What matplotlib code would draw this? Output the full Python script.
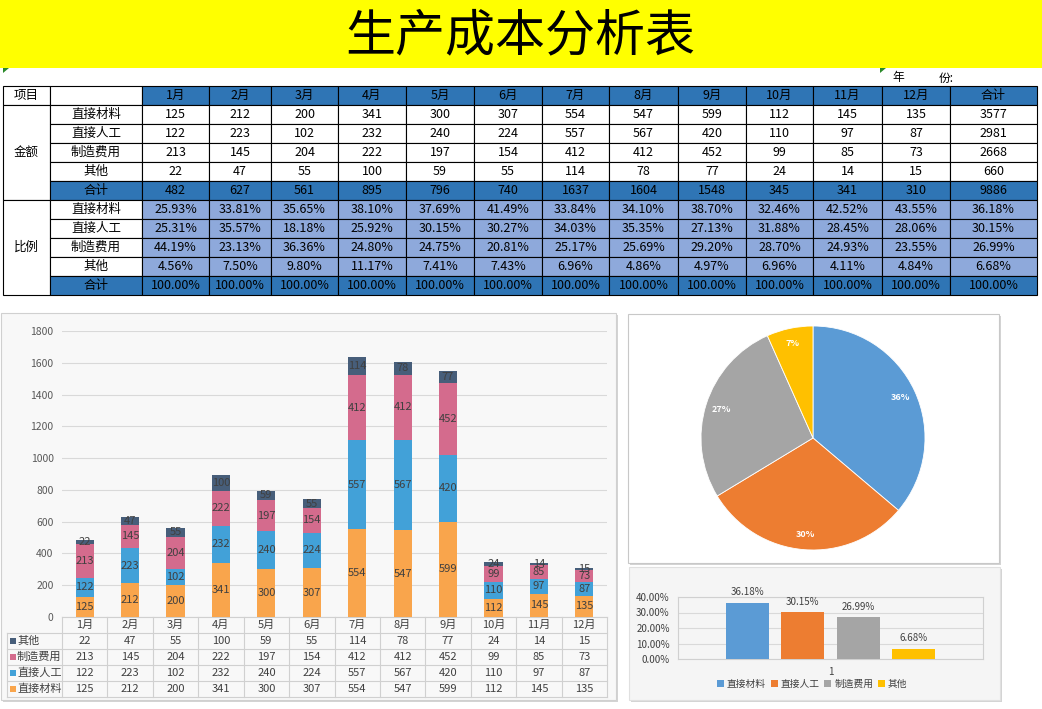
import numpy as np
import matplotlib
matplotlib.use('Agg')
from matplotlib import pyplot as plt
from matplotlib.patches import Rectangle, Polygon
from matplotlib.ticker import FuncFormatter

plt.rcParams['font.family'] = ['Noto Sans CJK SC', 'DejaVu Sans']

# ---- data read from the sheet ----
months = ['1月', '2月', '3月', '4月', '5月', '6月', '7月', '8月', '9月', '10月', '11月', '12月']
items = ['直接材料', '直接人工', '制造费用', '其他']
materials = [125, 212, 200, 341, 300, 307, 554, 547, 599, 112, 145, 135]
labor = [122, 223, 102, 232, 240, 224, 557, 567, 420, 110, 97, 87]
overhead = [213, 145, 204, 222, 197, 154, 412, 412, 452, 99, 85, 73]
other = [22, 47, 55, 100, 59, 55, 114, 78, 77, 24, 14, 15]
month_totals = [482, 627, 561, 895, 796, 740, 1637, 1604, 1548, 345, 341, 310]
item_totals = [3577, 2981, 2668, 660]
grand_total = 9886

pct_materials = [25.93, 33.81, 35.65, 38.10, 37.69, 41.49, 33.84, 34.10, 38.70, 32.46, 42.52, 43.55, 36.18]
pct_labor = [25.31, 35.57, 18.18, 25.92, 30.15, 30.27, 34.03, 35.35, 27.13, 31.88, 28.45, 28.06, 30.15]
pct_overhead = [44.19, 23.13, 36.36, 24.80, 24.75, 20.81, 25.17, 25.69, 29.20, 28.70, 24.93, 23.55, 26.99]
pct_other = [4.56, 7.50, 9.80, 11.17, 7.41, 7.43, 6.96, 4.86, 4.97, 6.96, 4.11, 4.84, 6.68]
pct_sum = [100.00] * 13
share_pct = [36.18, 30.15, 26.99, 6.68]

amounts = [materials, labor, overhead, other]
pcts = [pct_materials, pct_labor, pct_overhead, pct_other]

W, H = 1042, 709
fig = plt.figure(figsize=(W / 100, H / 100), dpi=100)
fig.patch.set_facecolor('white')
ax0 = fig.add_axes([0, 0, 1, 1])
ax0.set_xlim(0, W); ax0.set_ylim(H, 0); ax0.axis('off')

def px_axes(x0, y0, x1, y1):
    return fig.add_axes([x0 / W, 1 - y1 / H, (x1 - x0) / W, (y1 - y0) / H])

# title band
ax0.add_patch(Rectangle((0, 0), W, 68, facecolor='#FFFF00', edgecolor='none'))
ax0.text(520, 36, '生产成本分析表', fontsize=36, ha='center', va='center', color='black')
for tx in (3, 880):
    ax0.add_patch(Polygon([[tx, 68], [tx + 6, 68], [tx, 73]], closed=True, facecolor='#2a8a2a', edgecolor='none'))
ax0.text(898, 78, '年', fontsize=8.5, ha='center', va='center')
ax0.text(946, 78, '份:', fontsize=8.5, ha='center', va='center')

# ---- main table ----
BLUE = '#2F75B5'
LIGHT = '#8EA9DB'
col_edges = [3, 50, 142, 209, 271, 338, 406, 474, 542, 609, 678, 746, 813, 882, 950, 1037]
row_top, row_h = 86, 19
fs = 9

def cell(c0, c1, r0, r1, fc, txt=''):
    x0, x1 = col_edges[c0], col_edges[c1]
    y0, y1 = row_top + r0 * row_h, row_top + r1 * row_h
    ax0.add_patch(Rectangle((x0, y0), x1 - x0, y1 - y0, facecolor=fc, edgecolor='black', lw=0.8))
    if txt:
        ax0.text((x0 + x1) / 2, (y0 + y1) / 2, txt, fontsize=fs, ha='center', va='center')

cell(0, 1, 0, 1, 'white', '项目')
cell(1, 2, 0, 1, 'white')
for j, m in enumerate(months + ['合计']):
    cell(2 + j, 3 + j, 0, 1, BLUE, m)
cell(0, 1, 1, 6, 'white', '金额')
for i, name in enumerate(items):
    cell(1, 2, 1 + i, 2 + i, 'white', name)
    for j, v in enumerate(amounts[i] + [item_totals[i]]):
        cell(2 + j, 3 + j, 1 + i, 2 + i, 'white', str(v))
cell(1, 2, 5, 6, BLUE, '合计')
for j, v in enumerate(month_totals + [grand_total]):
    cell(2 + j, 3 + j, 5, 6, BLUE, str(v))
cell(0, 1, 6, 11, 'white', '比例')
for i, name in enumerate(items):
    cell(1, 2, 6 + i, 7 + i, 'white', name)
    for j, v in enumerate(pcts[i]):
        cell(2 + j, 3 + j, 6 + i, 7 + i, LIGHT, f'{v:.2f}%')
cell(1, 2, 10, 11, BLUE, '合计')
for j, v in enumerate(pct_sum):
    cell(2 + j, 3 + j, 10, 11, BLUE, f'{v:.2f}%')

# ---- panels ----
def panel(x0, y0, x1, y1, fc, ec='#d0d0d0'):
    ax0.add_patch(Rectangle((x0 + 2, y0 + 2), x1 - x0, y1 - y0, facecolor='#b8b8b8', edgecolor='none', alpha=0.6))
    ax0.add_patch(Rectangle((x0, y0), x1 - x0, y1 - y0, facecolor=fc, edgecolor=ec, lw=0.8))

panel(1, 313, 616, 700, '#F8F8F8')
panel(628, 314, 999, 563, 'white', '#c8c8c8')
panel(629, 567, 1000, 700, '#F5F5F5', '#e0e0e0')

# ---- stacked column chart ----
series_colors = ['#F9A54C', '#42A1D8', '#D46B8D', '#475E7A']
ax1 = px_axes(62, 331, 607, 617)
ax1.set_facecolor('none')
x = np.arange(len(months))
bottom = np.zeros(len(months))
for vals, col in zip(amounts, series_colors):
    bars = ax1.bar(x, vals, bottom=bottom, width=0.4, color=col, zorder=3)
    ax1.bar_label(bars, label_type='center', fontsize=8, color='#404040')
    bottom += np.array(vals)
ax1.set_xlim(-0.5, len(months) - 0.5)
ax1.set_ylim(0, 1800)
ax1.set_yticks(np.arange(0, 1801, 200))
ax1.tick_params(axis='y', length=0, pad=6, labelsize=7.5, labelcolor='#595959')
ax1.set_xticks([])
ax1.grid(axis='y', color='#d9d9d9', lw=0.8, zorder=0)
for s in ax1.spines.values():
    s.set_visible(False)

# data table under the chart
tl, tr, ty = 62, 607, 617
trh = 16
cw = (tr - tl) / len(months)
gcol = '#d0d0d0'
ax0.plot([tl, tr], [ty, ty], color=gcol, lw=0.8)
for k in range(1, 6):
    ax0.plot([7, tr], [ty + k * trh, ty + k * trh], color=gcol, lw=0.8)
ax0.plot([7, 7], [ty + trh, ty + 5 * trh], color=gcol, lw=0.8)
for k in range(len(months) + 1):
    ax0.plot([tl + k * cw] * 2, [ty, ty + 5 * trh], color=gcol, lw=0.8)
for j, m in enumerate(months):
    ax0.text(tl + (j + 0.5) * cw, ty + trh / 2, m, fontsize=8, ha='center', va='center', color='#404040')
order = [3, 2, 1, 0]
for r, i in enumerate(order):
    yc = ty + (r + 1.5) * trh
    ax0.add_patch(Rectangle((10, yc - 3), 6, 6, facecolor=series_colors[i], edgecolor='none'))
    ax0.text(17, yc, items[i], fontsize=8, ha='left', va='center', color='#404040')
    for j, v in enumerate(amounts[i]):
        ax0.text(tl + (j + 0.5) * cw, yc, str(v), fontsize=8, ha='center', va='center', color='#404040')

# ---- pie ----
pie_colors = ['#5B9BD5', '#ED7D31', '#A5A5A5', '#FFC000']
cx, cy, r = 813, 438, 112
ax2 = px_axes(cx - r, cy - r, cx + r, cy + r)
ax2.set_facecolor('none')
wedges, texts, autotexts = ax2.pie(item_totals, colors=pie_colors, startangle=90, counterclock=False,
                                   autopct='%1.0f%%', pctdistance=0.86, radius=1,
                                   wedgeprops=dict(edgecolor='white', linewidth=0.6),
                                   textprops=dict(color='white', fontsize=6.5, fontweight='bold'))
ax2.set_xlim(-1, 1); ax2.set_ylim(-1, 1)
ax2.set_aspect('equal')

# ---- share bar chart ----
ax3 = px_axes(678, 597, 983, 659)
ax3.set_facecolor('none')
step, bw = 0.182, 0.141
offs = (np.arange(len(items)) - 1.5) * step
hs = []
for k in range(len(items)):
    b = ax3.bar(offs[k], share_pct[k], width=bw, color=pie_colors[k], zorder=3, label=items[k])
    hs.append(b)
    ax3.annotate(f'{share_pct[k]:.2f}%', (offs[k], share_pct[k]), xytext=(0, 4), textcoords='offset points',
                 ha='center', va='bottom', fontsize=7, color='#404040', annotation_clip=False)
ax3.set_xlim(-0.5, 0.5)
ax3.set_ylim(0, 40)
ax3.set_yticks(np.arange(0, 41, 10))
ax3.yaxis.set_major_formatter(FuncFormatter(lambda v, p: f'{v:.2f}%'))
ax3.set_xticks([0])
ax3.set_xticklabels(['1'])
ax3.tick_params(axis='both', length=0, labelsize=7, labelcolor='#404040')
ax3.tick_params(axis='x', pad=6)
ax3.tick_params(axis='y', pad=6)
ax3.grid(axis='y', color='#d9d9d9', lw=0.8, zorder=0)
for s in ax3.spines.values():
    s.set_color('#d0d0d0')
    s.set_linewidth(0.8)
ax3.legend(loc='center', bbox_to_anchor=(0.44, -0.40), ncol=4, frameon=False, fontsize=7,
           handlelength=0.7, handleheight=0.7, handletextpad=0.3, columnspacing=0.5,
           labelcolor='#404040')

fig.savefig('out.png', dpi=100)
